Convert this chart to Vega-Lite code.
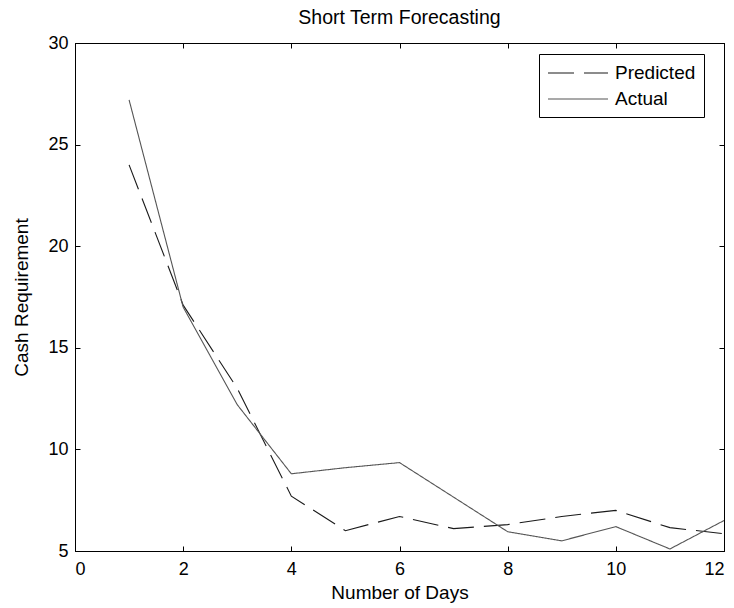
{
  "$schema": "https://vega.github.io/schema/vega-lite/v6.json",
  "width": 649,
  "height": 508,
  "autosize": "none",
  "padding": {"left": 75, "top": 43, "right": 10, "bottom": 57},
  "background": "white",
  "title": {"text": "Short Term Forecasting", "font": "Liberation Sans", "fontSize": 19.5, "fontWeight": "normal", "color": "#000", "offset": 6},
  "config": {
    "view": {"stroke": "#000", "strokeWidth": 1},
    "axis": {"labelFont": "Liberation Sans", "titleFont": "Liberation Sans", "labelFontSize": 18, "titleFontSize": 19, "titleFontWeight": "normal", "labelColor": "#000", "titleColor": "#000", "domainColor": "#000", "tickColor": "#000", "grid": false, "tickSize": -5},
    "legend": {"title": null, "orient": "none", "legendX": 464, "legendY": 11, "fillColor": "white", "strokeColor": "#000", "padding": 8, "symbolType": "M-1,0H5", "symbolSize": 400, "symbolStrokeWidth": 1.2, "labelFont": "Liberation Sans", "labelFontSize": 19, "labelColor": "#000", "rowPadding": 5, "labelOffset": 46, "cornerRadius": 0}
  },
  "data": {"values": [
    {"day": 1, "series": "Predicted", "value": 24.0},
    {"day": 2, "series": "Predicted", "value": 17.1},
    {"day": 3, "series": "Predicted", "value": 13.0},
    {"day": 4, "series": "Predicted", "value": 7.7},
    {"day": 5, "series": "Predicted", "value": 6.0},
    {"day": 6, "series": "Predicted", "value": 6.7},
    {"day": 7, "series": "Predicted", "value": 6.1},
    {"day": 8, "series": "Predicted", "value": 6.3},
    {"day": 9, "series": "Predicted", "value": 6.7},
    {"day": 10, "series": "Predicted", "value": 7.0},
    {"day": 11, "series": "Predicted", "value": 6.15},
    {"day": 12, "series": "Predicted", "value": 5.85},
    {"day": 1, "series": "Actual", "value": 27.2},
    {"day": 2, "series": "Actual", "value": 17.0},
    {"day": 3, "series": "Actual", "value": 12.2},
    {"day": 4, "series": "Actual", "value": 8.8},
    {"day": 5, "series": "Actual", "value": 9.1},
    {"day": 6, "series": "Actual", "value": 9.35},
    {"day": 7, "series": "Actual", "value": 7.65},
    {"day": 8, "series": "Actual", "value": 5.95},
    {"day": 9, "series": "Actual", "value": 5.5},
    {"day": 10, "series": "Actual", "value": 6.2},
    {"day": 11, "series": "Actual", "value": 5.1},
    {"day": 12, "series": "Actual", "value": 6.5}
  ]},
  "layer": [
    {
      "mark": {"type": "line", "strokeWidth": 1.1},
      "encoding": {
        "x": {"field": "day", "type": "quantitative", "scale": {"domain": [0, 12], "nice": false, "zero": false}, "axis": {"title": "Number of Days", "values": [0, 2, 4, 6, 8, 10, 12], "labelPadding": 14, "titlePadding": 5}},
        "y": {"field": "value", "type": "quantitative", "scale": {"domain": [5, 30], "nice": false, "zero": false}, "axis": {"title": "Cash Requirement", "values": [5, 10, 15, 20, 25, 30], "labelPadding": 12, "titlePadding": 16}},
        "color": {"field": "series", "type": "nominal", "sort": ["Predicted", "Actual"], "scale": {"domain": ["Predicted", "Actual"], "range": ["#1a1a1a", "#555555"]}},
        "strokeDash": {"field": "series", "type": "nominal", "sort": ["Predicted", "Actual"], "scale": {"domain": ["Predicted", "Actual"], "range": [[26, 10], [1, 0]]}}
      }
    },
    {
      "mark": {"type": "line", "opacity": 0},
      "encoding": {
        "x": {"field": "day", "type": "quantitative", "axis": {"orient": "top", "labels": false, "title": null, "values": [0, 2, 4, 6, 8, 10, 12]}},
        "y": {"field": "value", "type": "quantitative", "axis": {"orient": "right", "labels": false, "title": null, "values": [5, 10, 15, 20, 25, 30]}},
        "detail": {"field": "series"}
      }
    }
  ],
  "resolve": {"axis": {"x": "independent", "y": "independent"}}
}
